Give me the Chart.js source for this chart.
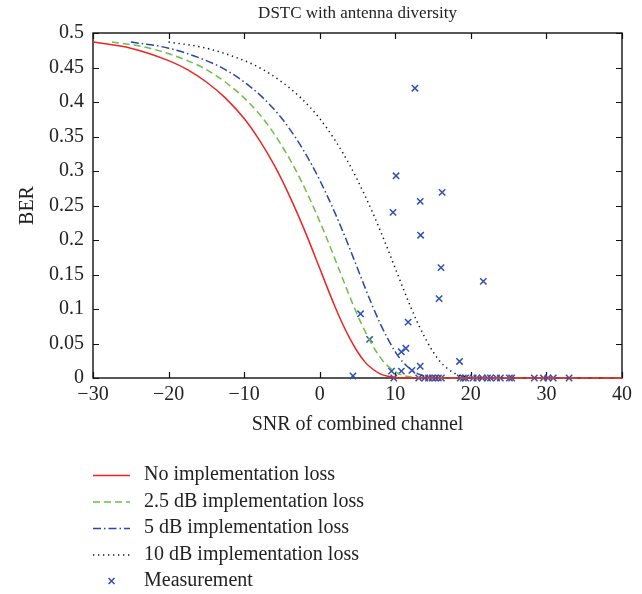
<!DOCTYPE html>
<html><head><meta charset="utf-8">
<script src="https://cdn.jsdelivr.net/npm/chart.js@4"></script>
<style>html,body{margin:0;padding:0;background:#fff}#wrap{width:642px;height:594px;position:relative}</style>
</head><body><div id="wrap"><canvas id="c" width="642" height="594"></canvas></div>
<script>
const chartTitle = 'DSTC with antenna diversity';
const xTitle = 'SNR of combined channel';
const yTitle = 'BER';
const xTicks = [-30, -20, -10, 0, 10, 20, 30, 40];
const yTicks = [0, 0.05, 0.1, 0.15, 0.2, 0.25, 0.3, 0.35, 0.4, 0.45, 0.5];
const seriesNames = ['No implementation loss', '2.5 dB implementation loss', '5 dB implementation loss', '10 dB implementation loss', 'Measurement'];

const snrNoLoss = [-30, -25, -20, -17.5, -15, -12.5, -10, -8, -6, -4, -2, 0, 1, 2, 3, 4, 5, 6, 7, 8, 9, 10, 11, 12, 14, 20, 30, 40];
const berNoLoss = [0.487, 0.478, 0.460, 0.447, 0.429, 0.406, 0.376, 0.345, 0.308, 0.264, 0.214, 0.159, 0.131, 0.104, 0.079, 0.057, 0.038, 0.023, 0.013, 0.006, 0.0024, 0.0008, 0.0002, 0, 0, 0, 0, 0];

const snrLoss25 = [-27.5, -22.5, -17.5, -15, -12.5, -10, -7.5, -5.5, -3.5, -1.5, 0.5, 2.5, 3.5, 4.5, 5.5, 6.5, 7.5, 8.5, 9.5, 10.5, 11.5, 12.5, 13.5, 14.5, 16.5, 22.5, 30, 40];
const berLoss25 = [0.487, 0.478, 0.460, 0.447, 0.429, 0.406, 0.376, 0.345, 0.308, 0.264, 0.214, 0.159, 0.131, 0.104, 0.079, 0.057, 0.038, 0.023, 0.013, 0.006, 0.0024, 0.0008, 0.0002, 0, 0, 0, 0, 0];

const snrLoss5 = [-25, -20, -15, -12.5, -10, -7.5, -5, -3, -1, 1, 3, 5, 6, 7, 8, 9, 10, 11, 12, 13, 14, 15, 16, 17, 19, 25, 30, 40];
const berLoss5 = [0.487, 0.478, 0.460, 0.447, 0.429, 0.406, 0.376, 0.345, 0.308, 0.264, 0.214, 0.159, 0.131, 0.104, 0.079, 0.057, 0.038, 0.023, 0.013, 0.006, 0.0024, 0.0008, 0.0002, 0, 0, 0, 0, 0];

const snrLoss10 = [-20, -15, -10, -7.5, -5, -2.5, 0, 2, 4, 6, 8, 10, 11, 12, 13, 14, 15, 16, 17, 18, 19, 20, 21, 22, 24, 30, 35, 40];
const berLoss10 = [0.487, 0.478, 0.460, 0.447, 0.429, 0.406, 0.376, 0.345, 0.308, 0.264, 0.214, 0.159, 0.131, 0.104, 0.079, 0.057, 0.038, 0.023, 0.013, 0.006, 0.0024, 0.0008, 0.0002, 0, 0, 0, 0, 0];

const measSnr = [12.6, 10.1, 9.7, 13.3, 16.2, 13.35, 16.05, 21.65, 15.8, 5.4, 11.7, 6.6, 10.8, 11.4, 9.5, 10.8, 12.2, 13.3, 18.5, 4.4,
  9.8, 13.1, 13.9, 14.4, 14.9, 15.3, 15.7, 16.1, 18.6, 19.0, 19.3, 20.3, 20.8, 21.5, 22.2, 22.6, 23.4, 23.9, 25.1, 25.4, 28.4, 29.6, 30.2, 30.9, 33.0];
const measBer = [0.42, 0.293, 0.24, 0.256, 0.269, 0.207, 0.16, 0.14, 0.115, 0.093, 0.081, 0.056, 0.038, 0.043, 0.010, 0.010, 0.011, 0.017, 0.024, 0.003,
  0, 0, 0, 0, 0, 0, 0, 0, 0, 0, 0, 0, 0, 0, 0, 0, 0, 0, 0, 0, 0, 0, 0, 0, 0];

const RED = 'rgb(240,35,35)', GREEN = 'rgb(110,190,70)', BLUE = 'rgb(40,70,175)', BLACK = '#111', MARK = 'rgb(45,80,180)';
const FONT = '"Liberation Serif", "Times New Roman", serif';
const TXT = '#222';

const pts = (xs, ys) => xs.map((x, i) => ({x: x, y: ys[i]}));
const lineDs = (label, xs, ys, color, dash, order) => ({
  label, data: pts(xs, ys), showLine: true, borderColor: color, backgroundColor: color,
  borderWidth: 1.5, borderDash: dash, pointRadius: 0, pointHoverRadius: 0,
  cubicInterpolationMode: 'monotone', clip: false, order
});

const styles = [
  {color: RED, dash: []},
  {color: GREEN, dash: [7, 4]},
  {color: BLUE, dash: [8, 3, 1.5, 3]},
  {color: BLACK, dash: [1.3, 3.7]}
];

const overlay = {
  id: 'overlay',
  beforeDatasetsDraw(chart) {
    const {ctx, chartArea: a, scales: {x, y}} = chart;
    ctx.save();
    ctx.strokeStyle = '#111';
    ctx.lineWidth = 1.4;
    ctx.strokeRect(a.left, a.top, a.right - a.left, a.bottom - a.top);
    const tl = 6;
    ctx.beginPath();
    xTicks.forEach(v => {
      const px = Math.round(x.getPixelForValue(v)) + 0.5;
      ctx.moveTo(px, a.bottom); ctx.lineTo(px, a.bottom - tl);
      ctx.moveTo(px, a.top); ctx.lineTo(px, a.top + tl);
    });
    yTicks.forEach(v => {
      const py = Math.round(y.getPixelForValue(v)) + 0.5;
      ctx.moveTo(a.left, py); ctx.lineTo(a.left + tl, py);
      ctx.moveTo(a.right, py); ctx.lineTo(a.right - tl, py);
    });
    ctx.lineWidth = 1.2;
    ctx.stroke();
    ctx.restore();
  },
  afterDraw(chart) {
    const {ctx, chartArea: a} = chart;
    const cx = (a.left + a.right) / 2;
    ctx.save();
    ctx.fillStyle = TXT;
    ctx.textAlign = 'center';
    ctx.textBaseline = 'middle';
    ctx.font = '17px ' + FONT;
    ctx.fillText(chartTitle, cx, 14);
    ctx.font = '20px ' + FONT;
    ctx.fillText(xTitle, cx, 425);
    ctx.save();
    ctx.translate(28, (a.top + a.bottom) / 2);
    ctx.rotate(-Math.PI / 2);
    ctx.fillText(yTitle, 0, 0);
    ctx.restore();
    // legend
    const rows = [475, 501.5, 528, 554.5, 581];
    const x0 = 93, x1 = 130, tx = 144;
    ctx.textAlign = 'left';
    seriesNames.forEach((name, i) => {
      const ry = rows[i];
      if (i < 4) {
        ctx.save();
        ctx.strokeStyle = styles[i].color;
        ctx.lineWidth = 1.5;
        ctx.setLineDash(styles[i].dash);
        ctx.beginPath();
        ctx.moveTo(x0, ry + 0.5); ctx.lineTo(x1, ry + 0.5);
        ctx.stroke();
        ctx.restore();
      } else {
        ctx.save();
        ctx.strokeStyle = MARK; ctx.lineWidth = 1.5;
        const mx = 111.5, r = 3;
        ctx.beginPath();
        ctx.moveTo(mx - r, ry - r); ctx.lineTo(mx + r, ry + r);
        ctx.moveTo(mx + r, ry - r); ctx.lineTo(mx - r, ry + r);
        ctx.stroke();
        ctx.restore();
      }
      ctx.fillStyle = TXT;
      ctx.fillText(name, tx, ry);
    });
    ctx.restore();
  }
};

new Chart(document.getElementById('c'), {
  type: 'scatter',
  data: {
    datasets: [
      {label: seriesNames[4], data: pts(measSnr, measBer), showLine: false, pointStyle: 'crossRot',
       pointRadius: 4.5, pointHoverRadius: 4.5, borderColor: MARK, backgroundColor: MARK, borderWidth: 1.5, clip: false, order: 5},
      lineDs(seriesNames[0], snrNoLoss, berNoLoss, styles[0].color, styles[0].dash, 1),
      lineDs(seriesNames[1], snrLoss25, berLoss25, styles[1].color, styles[1].dash, 2),
      lineDs(seriesNames[2], snrLoss5, berLoss5, styles[2].color, styles[2].dash, 3),
      lineDs(seriesNames[3], snrLoss10, berLoss10, styles[3].color, styles[3].dash, 4)
    ]
  },
  options: {
    responsive: false, animation: false, devicePixelRatio: 1,
    layout: {padding: {top: 33, right: 20, left: 0, bottom: 0}},
    plugins: {legend: {display: false}, tooltip: {enabled: false}, title: {display: false}},
    events: [],
    scales: {
      x: {
        type: 'linear', min: -30, max: 40,
        afterBuildTicks: s => { s.ticks = xTicks.map(v => ({value: v})); },
        afterFit: s => { s.height = 216; },
        grid: {display: false, drawTicks: false}, border: {display: false},
        ticks: {font: {family: FONT, size: 20}, color: TXT, padding: 5, maxRotation: 0,
                callback: v => String(v).replace('-', '\u2212')}
      },
      y: {
        type: 'linear', min: 0, max: 0.5,
        afterBuildTicks: s => { s.ticks = yTicks.map(v => ({value: v})); },
        afterFit: s => { s.width = 93; },
        grid: {display: false, drawTicks: false}, border: {display: false},
        ticks: {font: {family: FONT, size: 20}, color: TXT, padding: 9, callback: v => String(v)}
      }
    }
  },
  plugins: [overlay]
});
</script></body></html>
